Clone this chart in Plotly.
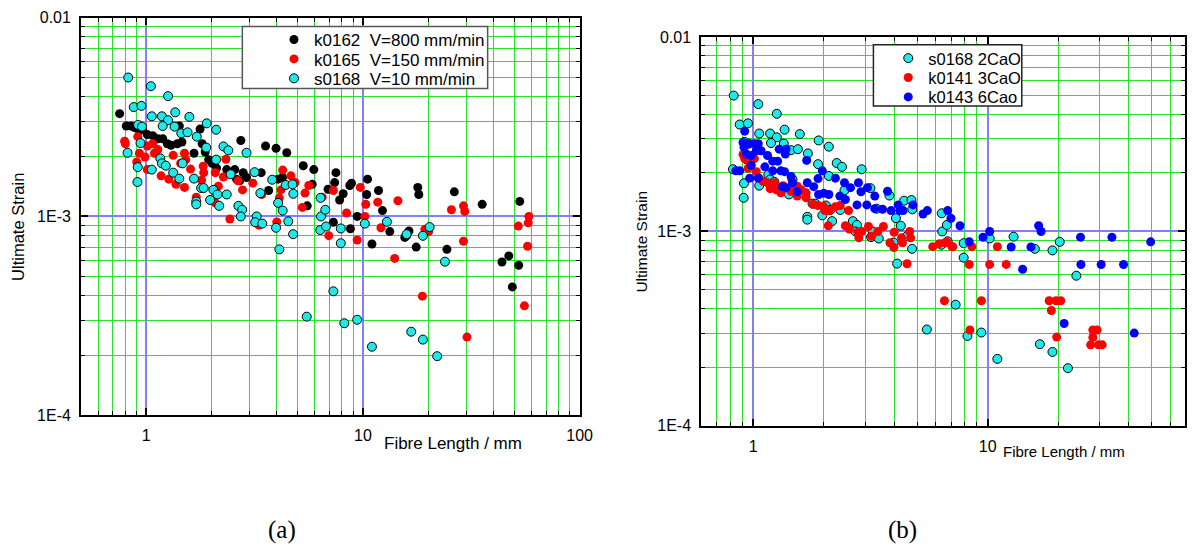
import plotly.graph_objects as go

W, H = 1198, 556

# ---------------- data ----------------
# (a) left panel
k0162_len = [0.753, 0.808, 0.851, 0.882, 0.929, 0.962, 1.01, 1.07, 1.13, 1.19,
             1.25, 1.30, 1.39, 1.46, 1.42, 1.77, 1.81, 1.66, 1.87, 1.94,
             2.01, 2.11, 2.35, 2.56, 2.73, 2.80, 2.61, 2.70, 2.90, 3.39,
             3.55, 3.97, 4.45, 3.67, 4.05, 4.25, 5.3, 5.93, 5.83, 5.53,
             6.9, 7.5, 7.4, 8.1, 7.8, 8.69, 8.85, 10.5, 10.4, 11.8,
             12.3, 9.4, 7.3, 8.75, 13.3, 11.0, 16.3, 15.6, 15.9, 17.6,
             17.9, 18.1, 24.4, 26.4, 35.5, 52.9, 43.8, 47.1, 52.3, 48.9]
k0162_strain = [3.29e-3, 2.85e-3, 2.85e-3, 2.80e-3, 2.70e-3, 2.75e-3, 2.58e-3, 2.55e-3, 2.46e-3, 2.46e-3,
                2.32e-3, 2.28e-3, 2.32e-3, 2.37e-3, 2.85e-3, 2.75e-3, 2.32e-3, 2.08e-3, 2.11e-3, 1.93e-3,
                1.85e-3, 1.75e-3, 1.72e-3, 1.72e-3, 2.41e-3, 1.66e-3, 1.54e-3, 1.51e-3, 1.57e-3, 1.66e-3,
                2.26e-3, 2.20e-3, 2.09e-3, 1.35e-3, 1.54e-3, 1.57e-3, 1.80e-3, 1.72e-3, 1.45e-3, 1.13e-3,
                1.37e-3, 1.66e-3, 1.48e-3, 1.30e-3, 1.21e-3, 1.43e-3, 1.47e-3, 1.54e-3, 1.29e-3, 1.35e-3,
                1.07e-3, 1.00e-3, 9.35e-4, 8.67e-4, 8.39e-4, 7.27e-4, 8.45e-4, 7.84e-4, 8.00e-4, 7.01e-4,
                1.40e-3, 1.29e-3, 6.83e-4, 1.33e-3, 1.15e-3, 1.19e-3, 5.90e-4, 6.33e-4, 5.68e-4, 4.42e-4]

k0165_len = [0.794, 0.80, 0.913, 0.929, 0.903, 0.986, 1.01, 1.07, 1.09, 1.13,
             1.01, 1.17, 1.27, 1.37, 1.33, 1.44, 1.50, 1.52, 1.60, 1.50,
             1.83, 1.84, 1.80, 1.70, 2.08, 2.27, 2.33, 2.15, 2.08, 2.43,
             2.65, 2.78, 3.10, 3.41, 3.31, 4.0, 4.26, 4.65, 4.86, 4.18,
             4.11, 5.4, 5.62, 5.25, 6.48, 6.95, 7.3, 9.72, 10.3, 10.2,
             11.7, 8.4, 9.4, 12.1, 14.5, 19.3, 20.1, 14.0, 18.8, 25.6,
             29.1, 29.5, 29.1, 30.2, 52.1, 58.3, 57.9, 57.5, 55.6]
k0165_strain = [2.39e-3, 2.32e-3, 2.52e-3, 2.08e-3, 1.88e-3, 1.99e-3, 2.26e-3, 2.32e-3, 2.08e-3, 2.17e-3,
                1.72e-3, 1.60e-3, 1.54e-3, 1.45e-3, 2.03e-3, 1.85e-3, 2.08e-3, 1.93e-3, 1.73e-3, 1.40e-3,
                1.79e-3, 1.66e-3, 1.52e-3, 1.25e-3, 1.66e-3, 1.58e-3, 1.94e-3, 1.42e-3, 1.17e-3, 9.70e-4,
                1.51e-3, 1.36e-3, 1.47e-3, 1.29e-3, 9.04e-4, 9.38e-4, 1.71e-3, 1.60e-3, 1.48e-3, 1.36e-3,
                1.24e-3, 1.31e-3, 1.43e-3, 1.11e-3, 1.25e-3, 8.00e-4, 1.35e-3, 1.40e-3, 1.15e-3, 1.00e-3,
                1.18e-3, 1.04e-3, 7.61e-4, 8.77e-4, 1.20e-3, 8.61e-4, 8.39e-4, 6.15e-4, 3.97e-4, 1.08e-3,
                1.13e-3, 1.06e-3, 7.50e-4, 2.47e-4, 8.94e-4, 1.00e-3, 9.28e-4, 7.08e-4, 3.55e-4]

# s0168 appears in both panels
s0168_len = [0.825, 1.05, 1.26, 0.875, 0.949, 1.06, 1.18, 1.36, 1.58, 1.26,
             1.19, 1.35, 0.916, 0.955, 1.45, 1.55, 1.90, 2.10, 1.71, 2.27,
             2.39, 1.89, 2.90, 0.94, 0.819, 0.913, 0.91, 1.06, 1.16, 1.18,
             1.23, 1.33, 1.42, 1.47, 1.66, 1.79, 1.84, 1.70, 1.70, 1.97,
             2.04, 2.13, 2.17, 2.35, 2.10, 2.45, 2.66, 2.77, 2.73, 3.16,
             3.81, 3.23, 3.18, 3.43, 3.97, 4.52, 4.76, 4.11, 4.4, 4.73,
             6.37, 6.4, 6.35, 6.7, 6.75, 7.9, 7.9, 10.2, 12.9, 15.9,
             18.9, 20.3, 23.9, 7.3, 5.5, 8.2, 9.4, 16.7, 18.9, 22.0,
             11.0, 4.77, 3.36, 4.06, 4.26]
s0168_strain = [5.00e-3, 4.52e-3, 4.03e-3, 3.55e-3, 3.60e-3, 3.19e-3, 3.19e-3, 3.34e-3, 3.17e-3, 3.05e-3,
                2.85e-3, 2.83e-3, 2.89e-3, 2.83e-3, 2.62e-3, 2.65e-3, 2.94e-3, 2.73e-3, 2.52e-3, 2.25e-3,
                2.15e-3, 2.22e-3, 2.09e-3, 2.34e-3, 2.09e-3, 1.77e-3, 1.49e-3, 1.72e-3, 1.96e-3, 1.85e-3,
                1.80e-3, 1.66e-3, 1.55e-3, 1.85e-3, 1.55e-3, 1.39e-3, 1.39e-3, 1.19e-3, 1.15e-3, 1.21e-3,
                1.36e-3, 1.29e-3, 1.13e-3, 1.29e-3, 1.93e-3, 1.63e-3, 1.13e-3, 1.08e-3, 1.00e-3, 1.67e-3,
                1.53e-3, 1.00e-3, 9.35e-4, 9.20e-4, 8.77e-4, 9.45e-4, 8.14e-4, 6.83e-4, 1.44e-3, 1.45e-3,
                1.24e-3, 1.00e-3, 8.54e-4, 1.08e-3, 8.90e-4, 8.70e-4, 7.33e-4, 9.20e-4, 9.40e-4, 8.14e-4,
                7.99e-4, 8.84e-4, 5.92e-4, 4.20e-4, 3.13e-4, 2.90e-4, 3.02e-4, 2.63e-4, 2.40e-4, 1.98e-4,
                2.21e-4, 1.30e-3, 1.31e-3, 1.17e-3, 1.07e-3]

# (b) right panel
k0141_len = [0.904, 0.919, 0.965, 1.01, 1.03, 0.95, 1.06, 1.1, 1.15, 1.18,
             1.25, 1.23, 1.31, 1.34, 1.45, 1.52, 1.54, 1.6, 1.68, 1.54,
             1.68, 1.8, 1.89, 1.99, 2.02, 2.1, 2.24, 2.35, 2.55, 2.09,
             2.47, 2.57, 2.79, 2.9, 2.82, 3.1, 3.2, 3.4, 3.59, 3.99,
             3.83, 3.98, 4.29, 4.33, 4.65, 4.69, 4.53, 5.83, 6.22, 6.71,
             7.1, 6.59, 7.04, 8.56, 8.34, 10.2, 11.0, 12.0, 6.54, 9.4,
             8.4, 18.3, 19.6, 20.5, 18.7, 19.7, 28.1, 29.3, 28.1, 27.5,
             29.7, 30.8]
k0141_strain = [2.49e-3, 2.37e-3, 2.30e-3, 2.37e-3, 2.03e-3, 2.11e-3, 1.88e-3, 1.81e-3, 1.78e-3, 1.66e-3,
                1.64e-3, 1.78e-3, 1.58e-3, 1.72e-3, 1.61e-3, 1.58e-3, 1.71e-3, 1.64e-3, 1.58e-3, 1.52e-3,
                1.49e-3, 1.38e-3, 1.36e-3, 1.35e-3, 1.28e-3, 1.28e-3, 1.34e-3, 1.36e-3, 1.28e-3, 1.07e-3,
                1.07e-3, 1.03e-3, 9.90e-4, 1.00e-3, 9.27e-4, 1.06e-3, 9.44e-4, 1.00e-3, 1.06e-3, 9.90e-4,
                8.75e-4, 8.26e-4, 9.27e-4, 8.75e-4, 1.00e-3, 9.27e-4, 6.82e-4, 8.35e-4, 8.65e-4, 8.80e-4,
                8.35e-4, 8.75e-4, 8.35e-4, 8.35e-4, 6.77e-4, 6.77e-4, 8.35e-4, 6.77e-4, 4.40e-4, 4.40e-4,
                3.11e-4, 4.40e-4, 4.40e-4, 4.40e-4, 3.92e-4, 2.86e-4, 3.11e-4, 3.11e-4, 2.85e-4, 2.61e-4,
                2.61e-4, 2.61e-4]

k0143_len = [0.919, 0.904, 0.913, 0.965, 1.01, 1.05, 0.934, 0.98, 1.03, 1.08,
             1.15, 1.21, 1.27, 1.29, 1.37, 1.38, 0.842, 0.876, 0.98, 0.965,
             1.05, 1.12, 1.21, 1.31, 1.36, 1.45, 1.33, 1.38, 1.47, 1.54,
             1.69, 1.70, 1.81, 1.89, 1.97, 1.9, 2.0, 2.1, 2.24, 2.34,
             2.45, 2.47, 2.6, 2.81, 2.88, 3.07, 3.3, 2.77, 3.05, 3.3,
             3.56, 3.74, 3.87, 4.15, 4.22, 4.36, 4.8, 5.3, 5.53, 6.75,
             6.97, 7.62, 8.34, 9.55, 10.2, 12.6, 15.3, 16.5, 16.9, 24.9,
             33.9, 49.6, 14.1, 25.0, 30.5, 38.0, 21.2, 42.2]
k0143_strain = [3.28e-3, 2.87e-3, 2.71e-3, 2.83e-3, 2.83e-3, 2.83e-3, 2.50e-3, 2.46e-3, 2.60e-3, 2.60e-3,
                2.46e-3, 2.30e-3, 2.30e-3, 2.65e-3, 2.50e-3, 2.65e-3, 2.05e-3, 2.05e-3, 2.19e-3, 1.88e-3,
                1.88e-3, 2.15e-3, 2.05e-3, 2.05e-3, 2.03e-3, 1.92e-3, 1.70e-3, 1.68e-3, 1.78e-3, 1.60e-3,
                2.32e-3, 1.78e-3, 1.70e-3, 1.87e-3, 2.05e-3, 1.55e-3, 1.57e-3, 1.55e-3, 1.88e-3, 1.52e-3,
                1.78e-3, 1.46e-3, 1.68e-3, 1.78e-3, 1.60e-3, 1.68e-3, 1.52e-3, 1.37e-3, 1.37e-3, 1.31e-3,
                1.30e-3, 1.61e-3, 1.28e-3, 1.37e-3, 1.28e-3, 1.28e-3, 1.37e-3, 1.23e-3, 1.28e-3, 1.28e-3,
                1.17e-3, 1.07e-3, 8.85e-4, 9.33e-4, 1.00e-3, 8.32e-4, 8.32e-4, 1.07e-3, 1.00e-3, 9.33e-4,
                9.33e-4, 8.84e-4, 6.39e-4, 6.76e-4, 6.76e-4, 6.76e-4, 3.36e-4, 3.00e-4]

# tick definitions
x_major_a = [1, 10, 100]
x_major_text_a = ["1", "10", "100"]
x_major_b = [1, 10]
x_major_text_b = ["1", "10"]
x_minor = [0.5, 0.6, 0.7, 0.8, 0.9, 2, 3, 4, 5, 6, 7, 8, 9, 20, 30, 40, 50, 60, 70, 80, 90]
y_major = [1e-4, 1e-3, 1e-2]
y_major_text = ["1E-4", "1E-3", "0.01"]
y_minor = [2e-4, 3e-4, 4e-4, 5e-4, 6e-4, 7e-4, 8e-4, 9e-4,
           2e-3, 3e-3, 4e-3, 5e-3, 6e-3, 7e-3, 8e-3, 9e-3]

CYAN = "#1ee8e8"
GREEN = "rgb(40,225,40)"
LBLUE = "#8080ff"
FONT = "Liberation Sans, Arial, sans-serif"

fig = go.Figure()

MS = 9
series = [
    (k0162_len, k0162_strain, "k0162  V=800 mm/min", dict(color="black", size=MS), "x", "y", "legend"),
    (k0165_len, k0165_strain, "k0165  V=150 mm/min", dict(color="#ff0000", size=MS), "x", "y", "legend2"),
    (s0168_len, s0168_strain, "s0168  V=10 mm/min",
     dict(color=CYAN, size=MS, line=dict(color="black", width=1)), "x", "y", "legend3"),
    (s0168_len, s0168_strain, "s0168 2CaO",
     dict(color=CYAN, size=MS, line=dict(color="black", width=1)), "x2", "y2", "legend4"),
    (k0141_len, k0141_strain, "k0141 3CaO", dict(color="#ff0000", size=MS), "x2", "y2", "legend5"),
    (k0143_len, k0143_strain, "k0143 6Cao", dict(color="#0000ff", size=MS), "x2", "y2", "legend6"),
]
for xs, ys, name, mk, xa, ya, lg in series:
    fig.add_trace(go.Scatter(x=xs, y=ys, mode="markers", name=name, marker=mk,
                             xaxis=xa, yaxis=ya, legend=lg))


def axis(domain, rng, tv, tt, minor_vals, anchor):
    return dict(type="log", domain=domain, range=rng, anchor=anchor,
                tickmode="array", tickvals=tv, ticktext=tt,
                showgrid=True, gridcolor=LBLUE, gridwidth=1.5,
                ticks="inside", ticklen=7, tickwidth=1.5, tickcolor="black",
                showline=True, linecolor="black", linewidth=2, mirror="ticks",
                zeroline=False, ticklabelstandoff=5,
                tickfont=dict(family=FONT, size=16, color="black"),
                minor=dict(tickmode="array", tickvals=minor_vals, ticks="inside", ticklen=4,
                           tickwidth=1.2, tickcolor="black", showgrid=True,
                           gridcolor=GREEN, gridwidth=1.3))


def leg(xpx, ypx, size):
    return dict(x=xpx / W, y=1 - ypx / H, xanchor="left", yanchor="middle",
                bgcolor="rgba(0,0,0,0)", borderwidth=0,
                font=dict(family=FONT, size=size, color="black"))


ya_dom = [(H - 420) / H, (H - 10) / H]
yb_dom = [(H - 431) / H, (H - 30) / H]

fig.update_layout(
    width=W, height=H, margin=dict(l=0, r=0, t=0, b=0),
    paper_bgcolor="white", plot_bgcolor="white",
    xaxis=axis([82 / W, 586 / W], [-0.301, 2.0], x_major_a, x_major_text_a, x_minor, "y"),
    yaxis=axis(ya_dom, [-4, -2], y_major, y_major_text, y_minor, "x"),
    xaxis2=axis([709 / W, 1.0], [-0.2218, 1.842], x_major_b, x_major_text_b, x_minor, "y2"),
    yaxis2=axis(yb_dom, [-4, -2], y_major, y_major_text, y_minor, "x2"),
    legend=leg(277, 33, 17),
    legend2=leg(277, 53, 17),
    legend3=leg(277, 73, 17),
    legend4=leg(898, 52, 16.5),
    legend5=leg(898, 72, 16.5),
    legend6=leg(898, 92, 16.5),
    showlegend=True,
)

# legend frames
fig.add_shape(type="rect", xref="paper", yref="paper",
              x0=245 / W, x1=493 / W, y0=1 - 83 / H, y1=1 - 19 / H,
              line=dict(color="#555555", width=1.5), fillcolor="white", layer="above")
fig.add_shape(type="rect", xref="paper", yref="paper",
              x0=883 / W, x1=1033 / W, y0=1 - 101 / H, y1=1 - 38 / H,
              line=dict(color="#222222", width=1.5), fillcolor="white", layer="above")


def ann(text, x, y, size, angle=0, family=FONT):
    fig.add_annotation(text=text, xref="paper", yref="paper", x=x / W, y=1 - y / H,
                       xanchor="center", yanchor="middle", showarrow=False, textangle=angle,
                       font=dict(family=family, size=size, color="black"))


ann("Ultimate Strain", 18, 226, 16.5, -90)
ann("Ultimate Strain", 649, 241, 15.5, -90)
ann("Fibre Length / mm", 458, 449, 17)
ann("Fibre Length / mm", 1076, 458, 15)
ann("(a)", 285, 538, 25, family="Liberation Serif, Times New Roman, serif")
ann("(b)", 912, 538, 25, family="Liberation Serif, Times New Roman, serif")

fig.write_html("out.html", config={"displayModeBar": False},
               post_script="document.body.style.margin='0';document.documentElement.style.overflow='hidden';")
